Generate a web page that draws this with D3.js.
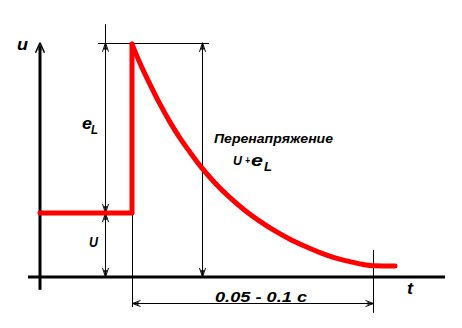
<!DOCTYPE html>
<html><head><meta charset="utf-8">
<script src="https://cdn.jsdelivr.net/npm/d3@7"></script>
<style>html,body{margin:0;padding:0;background:#fff;}svg{display:block;}</style>
</head><body>
<script>
// ---- data (abstract units: t along time axis, u voltage) ----
const stepT = [0, 23, 23];            // horizontal U level then jump
const stepU = [1.0, 1.0, 3.64];
const curveT = [23, 25, 27.5, 30, 32.5, 35, 37.5, 40, 43.75, 47.5, 51.25, 55, 58.75, 62.5, 66.25, 70, 73.75, 77.5, 80.5, 83.75, 88.75];
const curveU = [3.64, 3.34, 3.01, 2.70, 2.42, 2.17, 1.95, 1.74, 1.47, 1.24, 1.04, 0.87, 0.72, 0.59, 0.48, 0.38, 0.30, 0.24, 0.20, 0.175, 0.17];
const levelU = 1.0, peakU = 3.64, tJump = 23, tEnd = 83.25;
const dimT1 = 16.25, dimT2 = 40.5;
const labels = {u: "u", eL: "e", sub: "L", U: "U", over: "Перенапряжение", sum: "U", plus: "+", dur: "0.05 - 0.1 c", t: "t"};

const W = 462, H = 328;
const x = d3.scaleLinear().domain([0, 100]).range([40, 440]);
const y = d3.scaleLinear().domain([0, 4]).range([277, 21]);

const svg = d3.select("body").append("svg").attr("width", W).attr("height", H);
const font = "'Liberation Sans', Arial, sans-serif";
const c = v => Math.round(v) + 0.5;

function line(x1, y1, x2, y2, w) {
  svg.append("line").attr("x1", x1).attr("y1", y1).attr("x2", x2).attr("y2", y2)
    .attr("stroke", "#000").attr("stroke-width", w || 1);
}
function arrow(tx, ty, dx, dy, len, hw, sw) {
  const px = -dy, py = dx;
  const bx = tx - dx * len, by = ty - dy * len;
  const p = d3.path();
  p.moveTo(tx, ty); p.lineTo(bx + px * hw, by + py * hw);
  p.moveTo(tx, ty); p.lineTo(bx - px * hw, by - py * hw);
  svg.append("path").attr("d", p.toString()).attr("fill", "none").attr("stroke", "#000").attr("stroke-width", sw || 1);
  const q = d3.path();
  const mx = tx - dx * len * 0.75, my = ty - dy * len * 0.75;
  q.moveTo(tx, ty); q.lineTo(mx + px * 1.6, my + py * 1.6); q.lineTo(mx - px * 1.6, my - py * 1.6); q.closePath();
  svg.append("path").attr("d", q.toString()).attr("fill", "#000");
}

// axes
line(x(0), y(-0.2), x(0), y(3.6), 3);
arrow(x(0), y(3.66), 0, -1, 10, 4.5, 1.5);
line(x(-3), y(0), x(101.25), y(0), 3);

// dimension / extension lines
line(x(14.5), c(y(3.66)), x(42.25), c(y(3.66)));
line(c(x(dimT1)), y(3.95), c(x(dimT1)), y(0));
arrow(c(x(dimT1)), y(3.66), 0, -1, 9, 3, 1);
arrow(c(x(dimT1)), y(levelU), 0, 1, 9, 3, 1);
arrow(c(x(dimT1)), y(levelU), 0, -1, 9, 3, 1);
arrow(c(x(dimT1)), y(0), 0, 1, 9, 3, 1);
line(c(x(dimT2)), y(3.66), c(x(dimT2)), y(0));
arrow(c(x(dimT2)), y(3.66), 0, -1, 9, 3, 1);
arrow(c(x(dimT2)), y(0), 0, 1, 9, 3, 1);
line(c(x(tJump)), y(levelU), c(x(tJump)), y(-0.47));
line(c(x(tEnd)), y(0.42), c(x(tEnd)), y(-0.56));
line(x(tJump), c(y(-0.41)), x(tEnd), c(y(-0.41)));
arrow(c(x(tJump)), c(y(-0.41)), -1, 0, 8, 3, 1);
arrow(c(x(tEnd)), c(y(-0.41)), 1, 0, 8, 3, 1);

// red signal
const lin = d3.line().x(d => x(d[0])).y(d => y(d[1]));
const smooth = d3.line().x(d => x(d[0])).y(d => y(d[1])).curve(d3.curveMonotoneX);
svg.append("path").attr("d", lin(stepT.map((t, i) => [t, stepU[i]]))).attr("fill", "none").attr("stroke", "#ff0000")
  .attr("stroke-width", 5).attr("stroke-linejoin", "round").attr("stroke-linecap", "round");
svg.append("path").attr("d", smooth(curveT.map((t, i) => [t, curveU[i]]))).attr("fill", "none").attr("stroke", "#ff0000")
  .attr("stroke-width", 5).attr("stroke-linecap", "round");

// texts
function text(tx, ty, s, size, len) {
  const t = svg.append("text").attr("x", tx).attr("y", ty).text(s)
    .attr("font-family", font).attr("font-size", size).attr("font-weight", "bold").attr("font-style", "italic").attr("fill", "#000");
  if (len) t.attr("textLength", len).attr("lengthAdjust", "spacingAndGlyphs");
  return t;
}
text(17, 50, labels.u, 16, 11);
text(82, 129, labels.eL, 17, 10);
text(91, 134, labels.sub, 12, 7);
text(89, 247, labels.U, 14, 9);
text(214, 143, labels.over, 13, 119);
text(233, 165, labels.sum, 13, 9);
text(245, 164, labels.plus, 11, 5);
text(251, 166, labels.eL, 17, 12);
text(264, 171, labels.sub, 12, 8);
text(215, 302, labels.dur, 15.5, 92);
text(407, 294, labels.t, 16, 6);
</script>
</body></html>
